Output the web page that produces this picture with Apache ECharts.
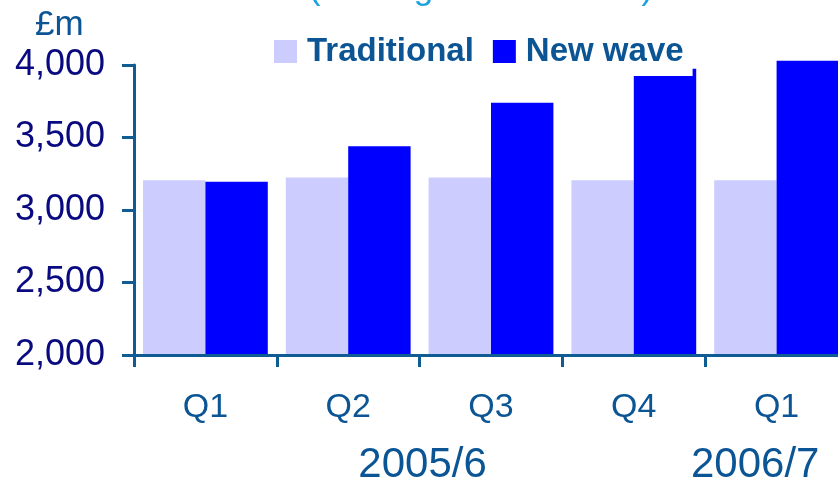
<!DOCTYPE html>
<html>
<head>
<meta charset="utf-8">
<script src="https://cdn.jsdelivr.net/npm/echarts@6/dist/echarts.min.js"></script>
<style>
  html, body { margin: 0; padding: 0; background: #ffffff; }
  #chart { width: 838px; height: 481px; }
</style>
</head>
<body>
<div id="chart"></div>
<script>
// Quarterly values, £m
const quarters = ['Q1', 'Q2', 'Q3', 'Q4', 'Q1'];
const traditional = [3205, 3225, 3225, 3205, 3205];
const newWave = [3195, 3440, 3740, 3975, 4030];
const yearLabels = ['2005/6', '2006/7'];
const yTicks = { min: 2000, max: 4000, step: 500 };
// headroom above the top tick so the tallest bar can rise past it
const headroom = 100;

const FONT = '"Liberation Sans", Arial, sans-serif';
const AXIS = '#0f5b93';
const TEXT = '#0b5595';

// plot area runs a little past the right edge of the canvas
const GRID_TOP = 65, GRID_BOTTOM = 126, GRID_LEFT = 134, GRID_WIDTH = 714;
const plotH = 481 - GRID_TOP - GRID_BOTTOM;
const pxPerUnit = plotH / (yTicks.max - yTicks.min);

const chart = echarts.init(document.getElementById('chart'), null, { renderer: 'canvas' });

const option = {
  animation: false,
  backgroundColor: '#ffffff',
  textStyle: { fontFamily: FONT },
  grid: [
    // axes frame
    { left: GRID_LEFT, width: GRID_WIDTH, top: GRID_TOP, bottom: GRID_BOTTOM,
      containLabel: false, outerBoundsMode: 'none' },
    // bar area: same scale, extended upwards by the headroom
    { left: GRID_LEFT, width: GRID_WIDTH, top: GRID_TOP - headroom * pxPerUnit, bottom: GRID_BOTTOM,
      containLabel: false, outerBoundsMode: 'none' }
  ],
  legend: {
    data: ['Traditional', 'New wave'],
    left: 269,
    top: 30,
    z: 10,
    backgroundColor: '#ffffff',
    padding: [5, 9, 8, 5],
    itemWidth: 23,
    itemHeight: 23,
    itemGap: 19,
    icon: 'rect',
    selectedMode: false,
    textStyle: {
      fontFamily: FONT, fontSize: 33, fontWeight: 'bold', color: TEXT,
      padding: [0, 0, 0, 5]
    }
  },
  xAxis: [
    {
      type: 'category', gridIndex: 0,
      data: quarters,
      boundaryGap: true,
      z: 5,
      axisLine: { lineStyle: { color: AXIS, width: 3 } },
      axisTick: { show: true, length: 12, inside: false, lineStyle: { color: AXIS, width: 3 } },
      axisLabel: { fontFamily: FONT, fontSize: 34, color: TEXT, margin: 36 },
      splitLine: { show: false }
    },
    {
      type: 'category', gridIndex: 1, data: quarters, boundaryGap: true, show: false
    }
  ],
  yAxis: [
    {
      type: 'value', gridIndex: 0,
      min: yTicks.min,
      max: yTicks.max,
      interval: yTicks.step,
      z: 5,
      axisLine: { show: true, lineStyle: { color: AXIS, width: 3 } },
      axisTick: { show: true, length: 12, lineStyle: { color: AXIS, width: 3 } },
      axisLabel: {
        fontFamily: FONT, fontSize: 36, color: '#0a0a80', margin: 29,
        formatter: v => v.toLocaleString('en-GB')
      },
      splitLine: { show: false }
    },
    {
      type: 'value', gridIndex: 1, min: yTicks.min, max: yTicks.max + headroom, show: false,
      splitLine: { show: false }
    }
  ],
  series: [
    {
      name: 'Traditional', type: 'bar', data: traditional,
      xAxisIndex: 1, yAxisIndex: 1,
      barGap: '0%', barCategoryGap: '12.6%', clip: true,
      itemStyle: { color: '#ccccff' }, z: 2
    },
    {
      name: 'New wave', type: 'bar', data: newWave,
      xAxisIndex: 1, yAxisIndex: 1,
      barGap: '0%', barCategoryGap: '12.6%', clip: true,
      itemStyle: { color: '#0000ff' }, z: 2
    }
  ]
};

chart.setOption(option);

// Year captions under the quarter labels, plus unit and subtitle text
const cx = i => chart.convertToPixel({ xAxisIndex: 0 }, i);
const axisY = chart.convertToPixel({ yAxisIndex: 0 }, yTicks.min);
const catW = cx(1) - cx(0);

chart.setOption({
  graphic: [
    {
      type: 'text', left: 35, top: 8, z: 20,
      style: { text: '£m', font: '35px ' + FONT, fill: TEXT }
    },
    {
      type: 'text', x: 481, y: -11, z: 20,
      style: {
        text: '(moving annual totals)', font: '35px ' + FONT, fill: '#1aa3dc',
        align: 'center', verticalAlign: 'middle'
      }
    },
    {
      type: 'text', x: (cx(1) + cx(2)) / 2 + 3, y: axisY + 110, z: 20,
      style: {
        text: yearLabels[0], font: '42px ' + FONT, fill: TEXT,
        align: 'center', verticalAlign: 'middle'
      }
    },
    {
      type: 'text', x: cx(4) - 0.15 * catW, y: axisY + 110, z: 20,
      style: {
        text: yearLabels[1], font: '42px ' + FONT, fill: TEXT,
        align: 'center', verticalAlign: 'middle'
      }
    }
  ]
});
</script>
</body>
</html>
